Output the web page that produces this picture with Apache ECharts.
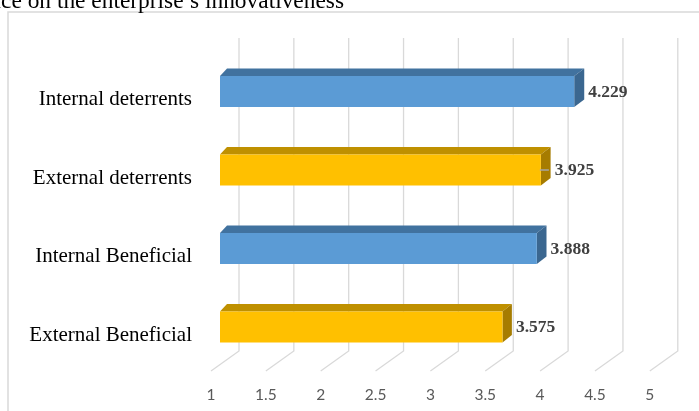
<!DOCTYPE html>
<html>
<head>
<meta charset="utf-8">
<script src="https://cdn.jsdelivr.net/npm/echarts@6/dist/echarts.min.js"></script>
<style>
  html, body { margin: 0; padding: 0; background: #ffffff; }
  #chart { width: 699px; height: 411px; }
</style>
</head>
<body>
<div id="chart"></div>
<script>
// Mean scores of the influence factors (1–5 scale), top to bottom
const categories = ['Internal deterrents', 'External deterrents', 'Internal Beneficial', 'External Beneficial'];
const scores = [4.229, 3.925, 3.888, 3.575];
const barKinds = ['blue', 'gold', 'blue', 'gold'];
const tickValues = [1, 1.5, 2, 2.5, 3, 3.5, 4, 4.5, 5];
const titleText = 'Factors of influence on the enterprise\u2019s innovativeness';

// face colours of the 3D boxes: front, top, side
const palette = {
  blue: { front: '#5b9bd5', top: '#41729f', side: '#3b6790' },
  gold: { front: '#ffc000', top: '#bf9000', side: '#a67c00' }
};

// depth of the pseudo-3D bars (slight perspective: deeper towards the right)
const DEPTH_Y = -7.5;
const FRONT_TOP = -23.5, FRONT_BOTTOM = 7.5;
function depthX(x, x0) { return 7 + 0.0085 * (x - x0); }

const chart = echarts.init(document.getElementById('chart'), null, { renderer: 'canvas' });

function renderBar(params, api) {
  const cat = api.value(0);
  const val = api.value(1);
  const start = api.coord([1, cat]);
  const end = api.coord([val, cat]);
  const x0 = start[0], x1 = end[0], yc = end[1];
  const yt = yc + FRONT_TOP, yb = yc + FRONT_BOTTOM;
  const d0 = depthX(x0, x0), d1 = depthX(x1, x0);
  const c = palette[barKinds[params.dataIndex]];
  const children = [
    { type: 'polygon', shape: { points: [[x0, yt], [x0 + d0, yt + DEPTH_Y], [x1 + d1, yt + DEPTH_Y], [x1, yt]] },
      style: { fill: c.top } },
    { type: 'polygon', shape: { points: [[x1, yt], [x1 + d1, yt + DEPTH_Y], [x1 + d1, yb + DEPTH_Y], [x1, yb]] },
      style: { fill: c.side } },
    { type: 'rect', shape: { x: x0, y: yt, width: x1 - x0, height: yb - yt },
      style: { fill: c.front } }
  ];
  let labelX = x1 + d1 + 4;
  if (params.dataIndex === 1) {
    // label nudged away from the bar, with its leader line
    children.push({ type: 'line', shape: { x1: x1 - 1, y1: yc - 8, x2: x1 + 8, y2: yc - 8 },
      style: { stroke: '#a6a6a6', lineWidth: 1.5 } });
    labelX = x1 + 14;
  }
  children.push({
    type: 'text',
    style: {
      x: labelX, y: yc - 7.5,
      text: val.toFixed(3),
      fill: '#404040',
      font: 'bold 17.5px "Liberation Serif", "Times New Roman", serif',
      align: 'left', verticalAlign: 'middle'
    }
  });
  return { type: 'group', children: children };
}

function renderGridLine(params, api) {
  const x = api.coord([api.value(0), 0])[0];
  return {
    type: 'polyline',
    shape: { points: [[x + 19, 38], [x + 19, 351], [x - 9, 371]] },
    style: { stroke: '#d9d9d9', lineWidth: 1.3, fill: null }
  };
}

const option = {
  backgroundColor: '#ffffff',
  animation: false,
  graphic: [
    { type: 'rect', shape: { x: 8, y: 12, width: 700, height: 430 },
      style: { fill: null, stroke: '#d9d9d9', lineWidth: 1.5 }, z: -10 },
    { type: 'text', x: 344, y: 13.5,
      style: { text: titleText, fill: '#000000', font: '23.4px "Liberation Serif", "Times New Roman", serif',
               align: 'right', verticalAlign: 'bottom' } }
  ],
  grid: [
    { left: 220, width: 438.8, top: 60.25, height: 314, containLabel: false },
    { left: 211, width: 438.8, top: 60, height: 315, containLabel: false }
  ],
  xAxis: [
    { gridIndex: 0, type: 'value', min: 1, max: 5, interval: 0.5,
      axisLine: { show: false }, axisTick: { show: false }, axisLabel: { show: false }, splitLine: { show: false } },
    { gridIndex: 1, type: 'value', min: 1, max: 5, interval: 0.5,
      axisLine: { show: false }, axisTick: { show: false }, splitLine: { show: false },
      axisLabel: { show: true, margin: 12, color: '#595959', fontSize: 15.5, fontFamily: 'Lato, "Open Sans", sans-serif',
                   formatter: v => String(v) } }
  ],
  yAxis: [
    { gridIndex: 0, type: 'category', data: categories, inverse: true,
      axisLine: { show: false }, axisTick: { show: false }, splitLine: { show: false },
      axisLabel: { margin: 28, color: '#000000', fontSize: 21, fontFamily: '"Liberation Serif", "Times New Roman", serif' } },
    { gridIndex: 1, type: 'value', show: false }
  ],
  series: [
    { type: 'custom', name: 'grid', xAxisIndex: 0, yAxisIndex: 0, z: 1, silent: true,
      renderItem: renderGridLine,
      data: tickValues.map(v => [v, 0]) },
    { type: 'custom', name: 'scores', xAxisIndex: 0, yAxisIndex: 0, z: 2,
      renderItem: renderBar,
      encode: { x: 1, y: 0 },
      data: scores.map((s, i) => [i, s]) }
  ]
};

chart.setOption(option);
</script>
</body>
</html>
